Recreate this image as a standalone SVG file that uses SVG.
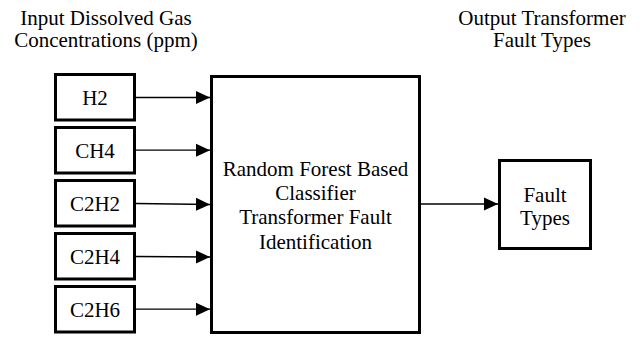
<svg xmlns="http://www.w3.org/2000/svg" width="642" height="338" viewBox="0 0 642 338" font-family="Liberation Serif, Times New Roman, serif">
<style>
text{font-size:21px;fill:#000;text-anchor:middle}
.box{fill:#fff;stroke:#000;stroke-width:3}
.conn line{stroke:#000;stroke-width:1.3}
</style>
<defs>
<marker id="ah" markerUnits="userSpaceOnUse" markerWidth="15" markerHeight="14" refX="14" refY="7" orient="auto">
<path d="M0,0.5 L14,7 L0,13.5 Z" fill="#000"/>
</marker>
</defs>
<rect width="642" height="338" fill="#fff"/>
<g id="title-input">
<text x="106" y="25.3" font-family="Liberation Serif">Input Dissolved Gas</text>
<text x="106" y="47" font-family="Liberation Serif">Concentrations (ppm)</text>
</g>
<g id="title-output">
<text x="542" y="25.3" font-family="Liberation Serif">Output Transformer</text>
<text x="542" y="47" font-family="Liberation Serif">Fault Types</text>
</g>
<g id="h2"><rect class="box" x="55.5" y="74.5" width="79" height="45.5"/><text x="95" y="105" font-family="Liberation Serif">H2</text></g>
<g id="ch4"><rect class="box" x="55.5" y="127.5" width="79" height="45.5"/><text x="95" y="158" font-family="Liberation Serif">CH4</text></g>
<g id="c2h2"><rect class="box" x="55.5" y="180.5" width="79" height="45.5"/><text x="95" y="211" font-family="Liberation Serif">C2H2</text></g>
<g id="c2h4"><rect class="box" x="55.5" y="233.5" width="79" height="45.5"/><text x="95" y="264" font-family="Liberation Serif">C2H4</text></g>
<g id="c2h6"><rect class="box" x="55.5" y="286.5" width="79" height="45.5"/><text x="95" y="317" font-family="Liberation Serif">C2H6</text></g>
<g id="classifier">
<rect class="box" x="211.5" y="76.5" width="208" height="256"/>
<text x="315.5" y="176" font-family="Liberation Serif">Random Forest Based</text>
<text x="315.5" y="199.5" font-family="Liberation Serif">Classifier</text>
<text x="315.5" y="224" font-family="Liberation Serif">Transformer Fault</text>
<text x="315.5" y="249" font-family="Liberation Serif">Identification</text>
</g>
<g id="fault-types">
<rect class="box" x="499.5" y="160.5" width="91" height="88"/>
<text x="545" y="201.5" font-family="Liberation Serif">Fault</text>
<text x="545" y="225" font-family="Liberation Serif">Types</text>
</g>
<g id="connectors" class="conn">
<line x1="136" y1="97.5" x2="210" y2="97.5" marker-end="url(#ah)"/>
<line x1="136" y1="150.2" x2="210" y2="150.2" marker-end="url(#ah)"/>
<line x1="136" y1="203.5" x2="210" y2="204.5" marker-end="url(#ah)"/>
<line x1="136" y1="256.5" x2="210" y2="257" marker-end="url(#ah)"/>
<line x1="136" y1="309.2" x2="210" y2="309.2" marker-end="url(#ah)"/>
<line x1="421" y1="204" x2="498" y2="204" marker-end="url(#ah)"/>
</g>
</svg>
